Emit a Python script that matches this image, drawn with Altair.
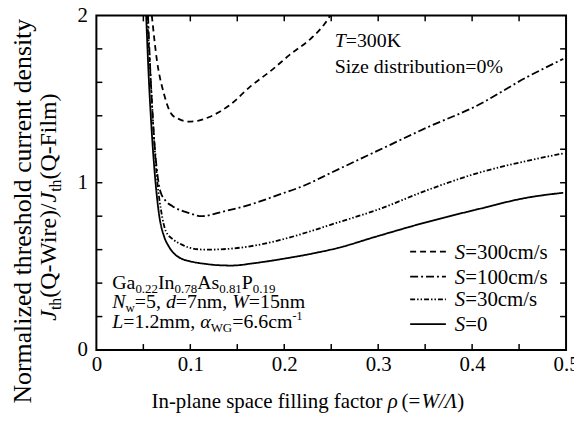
import altair as alt
import pandas as pd

# ---------------- data ----------------
series_names = ["S=300cm/s", "S=100cm/s", "S=30cm/s", "S=0"]

rho_s300 = [0.059, 0.0645, 0.072, 0.080, 0.088, 0.098, 0.108, 0.119, 0.141, 0.165, 0.186, 0.207, 0.228, 0.243, 0.249]
j_s300 = [2.0, 1.73, 1.53, 1.41, 1.38, 1.365, 1.37, 1.39, 1.46, 1.58, 1.67, 1.77, 1.86, 1.95, 2.0]

rho_s100 = [0.055, 0.058, 0.061, 0.064, 0.068, 0.074, 0.081, 0.098, 0.112, 0.133, 0.162, 0.193, 0.222, 0.250, 0.299, 0.352, 0.405, 0.458, 0.497]
j_s100 = [2.0, 1.6, 1.3, 1.1, 0.95, 0.89, 0.86, 0.82, 0.80, 0.825, 0.866, 0.926, 0.985, 1.06, 1.19, 1.33, 1.46, 1.63, 1.74]

rho_s30 = [0.054, 0.058, 0.061, 0.065, 0.069, 0.074, 0.082, 0.091, 0.100, 0.116, 0.141, 0.169, 0.204, 0.228, 0.250, 0.300, 0.352, 0.405, 0.458, 0.497]
j_s30 = [2.0, 1.6, 1.3, 1.0, 0.83, 0.71, 0.66, 0.63, 0.61, 0.60, 0.605, 0.625, 0.67, 0.71, 0.75, 0.84, 0.955, 1.056, 1.13, 1.175]

rho_s0 = [0.053, 0.056, 0.059, 0.063, 0.067, 0.072, 0.077, 0.084, 0.091, 0.100, 0.116, 0.130, 0.144, 0.169, 0.204, 0.233, 0.257, 0.299, 0.352, 0.405, 0.458, 0.497]
j_s0 = [2.0, 1.6, 1.3, 1.0, 0.80, 0.68, 0.62, 0.57, 0.545, 0.53, 0.515, 0.507, 0.505, 0.52, 0.55, 0.58, 0.61, 0.68, 0.765, 0.84, 0.91, 0.94]

x_labels = [0, 0.1, 0.2, 0.3, 0.4, 0.5]
y_labels = [0, 1, 2]
x_minor = [0.05, 0.1, 0.15, 0.2, 0.25, 0.3, 0.35, 0.4, 0.45]
y_minor = [0.2, 0.4, 0.6, 0.8, 1.0, 1.2, 1.4, 1.6, 1.8]

# ---------------- geometry ----------------
W, H = 473, 337
X0, Y0 = 97, 14            # page position of plot origin
XMAX, YMAX = 0.5, 2.0
FONT = "Liberation Serif"


def px2x(px):
    return (px - X0) / W * XMAX


def py2y(py):
    return (Y0 + H - py) / H * YMAX


REG = {' ': 250, '(': 333, ')': 333, '-': 333, '.': 250, ',': 250, '/': 278, '=': 564, '%': 833,
       'A': 722, 'F': 556, 'G': 722, 'I': 333, 'K': 722, 'L': 611, 'N': 722, 'P': 556, 'Q': 722,
       'S': 556, 'T': 611, 'W': 944, 'a': 444, 'b': 500, 'c': 444, 'd': 500, 'e': 444, 'f': 333,
       'g': 500, 'h': 500, 'i': 278, 'l': 278, 'm': 778, 'n': 500, 'o': 500, 'p': 500, 'r': 333,
       's': 389, 't': 278, 'u': 500, 'w': 722, 'y': 500, 'z': 444, 'ρ': 500, 'Λ': 722, 'α': 530}
ITA = {'J': 444, 'S': 500, 'T': 556, 'N': 667, 'L': 556, 'W': 833, 'd': 500, 'ρ': 560,
       'α': 530, 'Λ': 611, '/': 278, 'w': 667}


def width(t, size, ital):
    tot = 0
    for ch in t:
        tab = ITA if ital else REG
        tot += tab.get(ch, REG.get(ch, 500))
    return tot / 1000 * size


rows_h, rows_v = [], []


def run(pieces, px, py, vertical=False):
    """pieces: (text, size, italic, baseline shift[, kern])"""
    adv = 0
    for p in pieces:
        t, s, it, dy = p[:4]
        adv += p[4] if len(p) > 4 else 0
        if vertical:
            rows_v.append(dict(x=px2x(px + dy), y=py2y(py - adv), t=t, s=s, it=it))
        else:
            rows_h.append(dict(x=px2x(px + adv), y=py2y(py + dy), t=t, s=s, it=it))
        adv += width(t, s, it)
    return adv


def total(pieces):
    return sum(width(p[0], p[1], p[2]) + (p[4] if len(p) > 4 else 0) for p in pieces)


# annotations top right
run([("T", 20, True, 0), ("=300K", 20, False, 0)], 337, 46)
run([("Size distribution=0%", 20, False, 0)], 337, 72)

# material block bottom left
run([("Ga", 20, False, 0), ("0.22", 13, False, 4), ("In", 20, False, 0), ("0.78", 13, False, 4),
     ("As", 20, False, 0), ("0.81", 13, False, 4), ("P", 20, False, 0), ("0.19", 13, False, 4)], 113, 290)
run([("N", 20, True, 0), ("w", 13, False, 4), ("=5, ", 20, False, 0), ("d", 20, True, 0),
     ("=7nm, ", 20, False, 0), ("W", 20, True, 0), ("=15nm", 20, False, 0)], 113, 309)
run([("L", 20, True, 0), ("=1.2mm, ", 20, False, 0), ("α", 20, True, 0), ("WG", 13, False, 4),
     ("=6.6cm", 20, False, 0), ("-1", 12, False, -8)], 113, 329)

# legend texts
leg_base = [259, 284, 307, 332]
leg_txt = ["=300cm/s", "=100cm/s", "=30cm/s", "=0"]
for b, t in zip(leg_base, leg_txt):
    run([("S", 21, True, 0), (t, 21, False, 0)], 458, b)

# x axis title
xt = [("In-plane space filling factor ", 21, False, 0), ("ρ", 21, True, 0), (" (=", 21, False, 0, 2),
      ("W/Λ", 21, True, 0, -4), (")", 21, False, 0)]
run(xt, 310 - total(xt) / 2, 409)

# y axis title (rotated)
yt1 = [("Normalized threshold current density", 26, False, 0)]
run(yt1, 31, 211 + total(yt1) / 2, vertical=True)
yt2 = [("J", 24, True, 0), ("th", 16, False, 5), ("(Q-Wire)/", 24, False, 0),
       ("J", 24, True, 0), ("th", 16, False, 5), ("(Q-Film)", 24, False, 0)]
run(yt2, 56, 207 + total(yt2) / 2, vertical=True)

# ---------------- tables ----------------
curves = pd.concat([
    pd.DataFrame({"rho": rho_s300, "j": j_s300, "series": series_names[0]}),
    pd.DataFrame({"rho": rho_s100, "j": j_s100, "series": series_names[1]}),
    pd.DataFrame({"rho": rho_s30, "j": j_s30, "series": series_names[2]}),
    pd.DataFrame({"rho": rho_s0, "j": j_s0, "series": series_names[3]}),
], ignore_index=True)
curves["o"] = range(len(curves))

leg_center = [252, 277, 300, 325]
legend_df = pd.DataFrame({
    "x": [px2x(413)] * 4, "x2": [px2x(449)] * 4,
    "y": [py2y(c) for c in leg_center], "series": series_names,
})

th = pd.DataFrame(rows_h)
tv = pd.DataFrame(rows_v)

xsc = alt.Scale(domain=[0, XMAX], nice=False, zero=False)
ysc = alt.Scale(domain=[0, YMAX], nice=False, zero=False)
xax = alt.Axis(values=x_labels, ticks=False, domain=False, grid=False, title=None, labelFont=FONT,
               labelFontSize=21, labelColor="black", labelPadding=4, labelFlush=False,
               labelExpr="datum.value == 0 ? '0' : format(datum.value, '.1f')")
yax = alt.Axis(values=y_labels, ticks=False, domain=False, grid=False, title=None, labelFont=FONT,
               labelFontSize=21, labelColor="black", labelPadding=9, labelFlush=False, format=".0f")
dash = alt.Scale(domain=series_names, range=[[6, 4], [8, 3, 2, 3], [5, 2, 1.5, 2, 1.5, 2], [1, 0]])


def X(f):
    return alt.X(f, scale=xsc, axis=xax)


def Y(f):
    return alt.Y(f, scale=ysc, axis=yax)


lines = alt.Chart(curves).mark_line(color="black", strokeWidth=1.8, clip=True, interpolate="monotone").encode(
    x=X("rho:Q"),
    y=Y("j:Q"),
    strokeDash=alt.StrokeDash("series:N", scale=dash, legend=None),
    detail="series:N",
    order="o:Q",
)

xt_df = pd.DataFrame({"v": x_minor})
yt_df = pd.DataFrame({"v": y_minor})
tick_b = alt.Chart(xt_df).mark_rule(color="black", strokeWidth=1.5).encode(
    x=X("v:Q"), y=alt.value(H), y2=alt.value(H - 6))
tick_t = alt.Chart(xt_df).mark_rule(color="black", strokeWidth=1.5).encode(
    x=X("v:Q"), y=alt.value(0), y2=alt.value(6))
tick_l = alt.Chart(yt_df).mark_rule(color="black", strokeWidth=1.5).encode(
    y=Y("v:Q"), x=alt.value(0), x2=alt.value(6))
tick_r = alt.Chart(yt_df).mark_rule(color="black", strokeWidth=1.5).encode(
    y=Y("v:Q"), x=alt.value(W), x2=alt.value(W - 6))

leg_lines = alt.Chart(legend_df).mark_rule(color="black", strokeWidth=1.8).encode(
    x=X("x:Q"), x2="x2:Q",
    y=Y("y:Q"),
    strokeDash=alt.StrokeDash("series:N", scale=dash, legend=None),
)


def text_layer(df, italic, angle=0):
    d = df[df["it"] == italic]
    kw = dict(font=FONT, color="black", fill="black", align="left", baseline="alphabetic")
    if italic:
        kw["fontStyle"] = "italic"
    if angle:
        kw["angle"] = angle
    return alt.Chart(d).mark_text(**kw).encode(
        x=X("x:Q"),
        y=Y("y:Q"),
        text="t:N",
        size=alt.Size("s:Q", scale=None, legend=None),
    )


chart = alt.layer(
    lines, tick_b, tick_t, tick_l, tick_r, leg_lines,
    text_layer(th, False), text_layer(th, True),
    text_layer(tv, False, 270), text_layer(tv, True, 270),
).properties(
    width=W, height=H,
    autosize="none",
    padding={"left": 89, "top": 6, "right": 8, "bottom": 68},
    background="white",
).configure_view(stroke="black", strokeWidth=2)

chart.save("out.html", embed_options={"renderer": "svg", "actions": False})
